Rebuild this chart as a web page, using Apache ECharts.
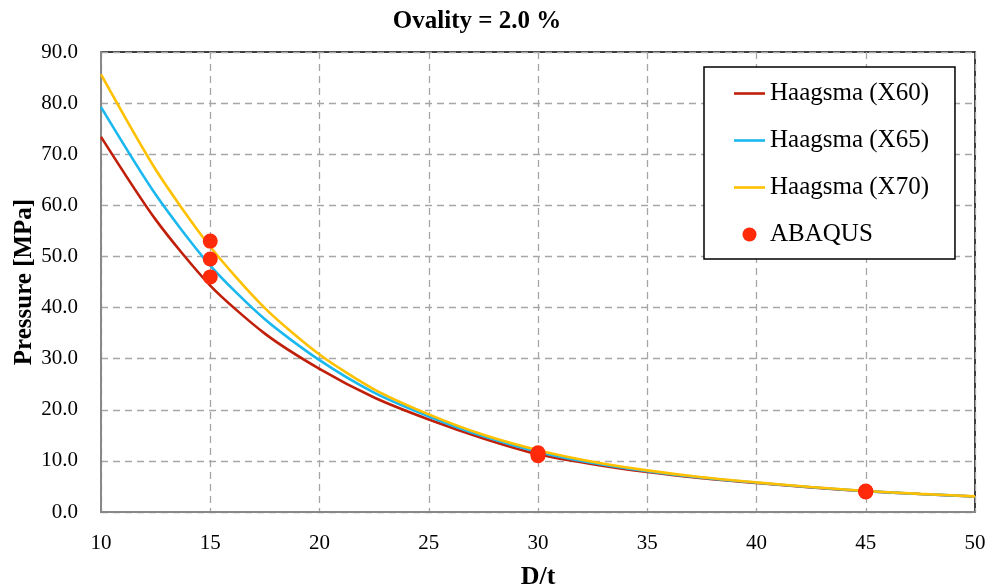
<!DOCTYPE html>
<html><head><meta charset="utf-8">
<script src="https://cdn.jsdelivr.net/npm/echarts@6/dist/echarts.min.js"></script>
<style>html,body{margin:0;padding:0;background:#fff}#c{width:990px;height:588px}</style>
</head><body><div id="c"></div>
<script>
const dt  = [10, 12.5, 15, 17.5, 20, 22.5, 25, 27.5, 30, 32.5, 35, 37.5, 40, 42.5, 45, 47.5, 50];
const x60 = [73.4, 57.2, 44.3, 34.9, 28.0, 22.4, 18.1, 14.4, 11.3, 9.36, 7.82, 6.6, 5.66, 4.8, 4.06, 3.51, 3.02];
const x65 = [79.2, 62.1, 48.2, 37.7, 29.7, 23.35, 18.7, 14.8, 11.75, 9.6, 8.0, 6.7, 5.73, 4.85, 4.09, 3.53, 3.03];
const x70 = [85.6, 67.0, 51.9, 39.9, 30.8, 24.0, 19.1, 15.1, 12.1, 9.85, 8.15, 6.8, 5.8, 4.9, 4.12, 3.55, 3.05];
const abaqusX = [15, 15, 15, 30, 30, 30, 45, 45, 45];
const abaqusY = [46.0, 49.5, 53.0, 11.0, 11.3, 11.6, 3.9, 4.0, 4.1];
const xTicks = [10, 15, 20, 25, 30, 35, 40, 45, 50];

const font = 'Liberation Serif';
const pair = (xs, ys) => xs.map((x, i) => [x, ys[i]]);
const chart = echarts.init(document.getElementById('c'), null, {renderer: 'canvas'});
const lineS = (name, data, color) => ({
  name, type: 'line', data: pair(dt, data), smooth: 0.25, symbol: 'none',
  lineStyle: {color, width: 2.6}, itemStyle: {color}, z: 3
});
const lineIcon = 'path://M0,0 L31,0 L31,2.6 L0,2.6 Z';
chart.setOption({
  animation: false,
  textStyle: {fontFamily: font},
  title: {text: 'Ovality = 2.0 %', left: 472, top: 4, textAlign: 'center',
    textStyle: {fontFamily: font, fontWeight: 'bold', fontSize: 25, color: '#000'}},
  grid: {left: 101, right: 15, top: 52, bottom: 76, show: true, borderColor: '#000', borderWidth: 1.5,
    outerBoundsMode: 'none', containLabel: false},
  legend: {
    orient: 'vertical', left: 704, top: 67,
    padding: [14, 26, 12, 30], itemGap: 22, itemWidth: 31, itemHeight: 14,
    borderColor: '#000', borderWidth: 1.5, backgroundColor: '#fff',
    textStyle: {fontFamily: font, fontSize: 25, color: '#000'},
    data: [
      {name: 'Haagsma (X60)', icon: lineIcon},
      {name: 'Haagsma (X65)', icon: lineIcon},
      {name: 'Haagsma (X70)', icon: lineIcon},
      {name: 'ABAQUS', icon: 'circle'}
    ]
  },
  xAxis: {
    type: 'value', min: 10, max: 50, interval: 5,
    name: 'D/t', nameLocation: 'middle', nameGap: 52, nameMoveOverlap: false,
    nameTextStyle: {fontFamily: font, fontWeight: 'bold', fontSize: 26, color: '#000'},
    axisLine: {show: true, lineStyle: {color: '#888', width: 2}},
    axisTick: {show: false},
    axisLabel: {fontFamily: font, fontSize: 21, color: '#000', margin: 21,
      formatter: v => xTicks.includes(v) ? String(v) : ''},
    splitLine: {show: true, lineStyle: {color: '#a6a6a6', type: [7, 5], width: 1.3}}
  },
  yAxis: {
    type: 'value', min: 0, max: 90, interval: 10,
    name: 'Pressure [MPa]', nameLocation: 'middle', nameGap: 64, nameMoveOverlap: false,
    nameTextStyle: {fontFamily: font, fontWeight: 'bold', fontSize: 25, color: '#000'},
    axisLine: {show: true, lineStyle: {color: '#888', width: 2}},
    axisTick: {show: false},
    axisLabel: {fontFamily: font, fontSize: 21, color: '#000', margin: 23,
      formatter: v => v.toFixed(1)},
    splitLine: {show: true, lineStyle: {color: '#a6a6a6', type: [7, 5], width: 1.3}}
  },
  series: [
    lineS('Haagsma (X60)', x60, '#c0200a'),
    lineS('Haagsma (X65)', x65, '#1ab8ef'),
    lineS('Haagsma (X70)', x70, '#ffc000'),
    {name: 'ABAQUS', type: 'scatter', data: pair(abaqusX, abaqusY), symbolSize: 15,
      itemStyle: {color: '#ff2a0a', opacity: 1}, z: 5}
  ]
});
</script></body></html>
